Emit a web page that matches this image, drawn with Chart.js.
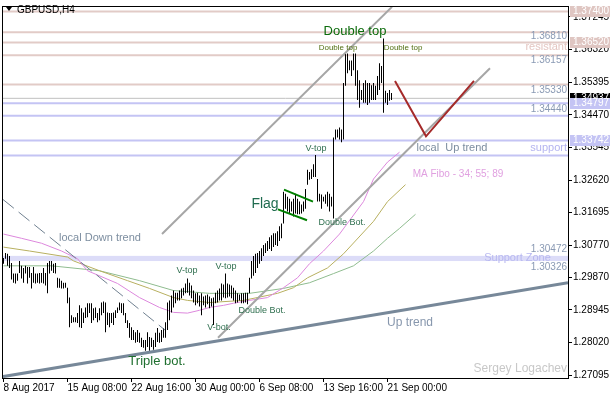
<!DOCTYPE html>
<html>
<head>
<meta charset="utf-8">
<script src="https://cdn.jsdelivr.net/npm/chart.js@4.4.1/dist/chart.umd.min.js"></script>
<style>
  html, body { margin: 0; padding: 0; background: #fff; }
  #wrap { width: 610px; height: 400px; }
</style>
</head>
<body>
<div id="wrap"><canvas id="gbpusd" width="610" height="400"></canvas></div>
<script>
// GBPUSD H4, one entry per bar (8 Aug 2017 00:00 .. 21 Sep 08:00)
const barHigh = [
  1.3041, 1.3055, 1.3053, 1.3047, 1.3027, 1.2997, 1.2997, 1.2997, 1.3033, 1.3019,
  1.3013, 1.3019, 1.3016, 1.3016, 1.2999, 1.3016, 1.2997, 1.2997, 1.2999, 1.2999,
  1.3013, 1.2999, 1.3027, 1.3033, 1.3033, 1.3025, 1.3027, 1.2985, 1.2983, 1.2977,
  1.2971, 1.2971, 1.2957, 1.2929, 1.2879, 1.2873, 1.2873, 1.2885, 1.2907, 1.2899,
  1.2887, 1.2901, 1.2913, 1.2913, 1.2913, 1.2899, 1.2901, 1.2885, 1.2899, 1.2915,
  1.2918, 1.2915, 1.2887, 1.2885, 1.2885, 1.2887, 1.2893, 1.2901, 1.2915, 1.2913,
  1.2913, 1.2885, 1.2865, 1.2857, 1.2845, 1.2837, 1.2831, 1.2837, 1.2829, 1.2815,
  1.2809, 1.2809, 1.2831, 1.2817, 1.2815, 1.2809, 1.2829, 1.2843, 1.2829, 1.2837,
  1.2843, 1.2859, 1.2915, 1.2921, 1.2935, 1.2949, 1.2943, 1.2943, 1.2949, 1.2955,
  1.2957, 1.2969, 1.2983, 1.2971, 1.2963, 1.2949, 1.2941, 1.2943, 1.2935, 1.2941,
  1.2932, 1.2935, 1.2938, 1.2932, 1.2927, 1.2929, 1.2943, 1.2949, 1.2955, 1.2969,
  1.2966, 1.2997, 1.2969, 1.2966, 1.2963, 1.2957, 1.2949, 1.2941, 1.2938, 1.2941,
  1.2941, 1.2943, 1.2943, 1.2985, 1.3033, 1.3047, 1.3053, 1.3055, 1.3061, 1.3069,
  1.3078, 1.3083, 1.3089, 1.3100, 1.3106, 1.3111, 1.3111, 1.3117, 1.3131, 1.3139,
  1.3229, 1.3223, 1.3215, 1.3209, 1.3201, 1.3209, 1.3223, 1.3209, 1.3201, 1.3193,
  1.3201, 1.3237, 1.3291, 1.3285, 1.3293, 1.3307, 1.3333, 1.3265, 1.3223, 1.3221,
  1.3215, 1.3221, 1.3229, 1.3223, 1.3215, 1.3383, 1.3405, 1.3405, 1.3411, 1.3405,
  1.3537, 1.3621, 1.3621, 1.3601, 1.3601, 1.3621, 1.3621, 1.3573, 1.3545, 1.3517,
  1.3537, 1.3545, 1.3537, 1.3537, 1.3531, 1.3537, 1.3529, 1.3557, 1.3593, 1.3585,
  1.3663, 1.3515, 1.3509, 1.3517, 1.3509
];
const barLow = [
  1.3025, 1.3039, 1.3019, 1.3013, 1.2980, 1.2971, 1.2969, 1.2977, 1.2999, 1.2983,
  1.2971, 1.2997, 1.2969, 1.2985, 1.2955, 1.2971, 1.2969, 1.2971, 1.2969, 1.2971,
  1.2969, 1.2963, 1.2941, 1.2997, 1.3005, 1.2999, 1.2997, 1.2957, 1.2957, 1.2955,
  1.2955, 1.2957, 1.2913, 1.2845, 1.2857, 1.2859, 1.2859, 1.2857, 1.2845, 1.2843,
  1.2857, 1.2871, 1.2873, 1.2885, 1.2857, 1.2865, 1.2871, 1.2859, 1.2865, 1.2879,
  1.2885, 1.2831, 1.2851, 1.2845, 1.2857, 1.2851, 1.2871, 1.2885, 1.2893, 1.2885,
  1.2879, 1.2857, 1.2843, 1.2815, 1.2809, 1.2809, 1.2801, 1.2803, 1.2801, 1.2789,
  1.2787, 1.2778, 1.2789, 1.2778, 1.2789, 1.2781, 1.2789, 1.2803, 1.2801, 1.2803,
  1.2815, 1.2815, 1.2837, 1.2865, 1.2887, 1.2901, 1.2913, 1.2921, 1.2921, 1.2927,
  1.2935, 1.2941, 1.2943, 1.2935, 1.2927, 1.2915, 1.2907, 1.2913, 1.2904, 1.2879,
  1.2907, 1.2901, 1.2910, 1.2899, 1.2904, 1.2851, 1.2913, 1.2915, 1.2921, 1.2921,
  1.2929, 1.2927, 1.2929, 1.2932, 1.2927, 1.2921, 1.2913, 1.2915, 1.2921, 1.2913,
  1.2913, 1.2915, 1.2910, 1.2941, 1.2983, 1.2991, 1.2999, 1.3013, 1.3025, 1.3033,
  1.3047, 1.3055, 1.3061, 1.3067, 1.3061, 1.3072, 1.3078, 1.3075, 1.3089, 1.3097,
  1.3139, 1.3181, 1.3173, 1.3167, 1.3173, 1.3159, 1.3167, 1.3165, 1.3165, 1.3167,
  1.3173, 1.3181, 1.3249, 1.3263, 1.3265, 1.3271, 1.3271, 1.3201, 1.3201, 1.3181,
  1.3201, 1.3195, 1.3187, 1.3173, 1.3187, 1.3153, 1.3377, 1.3383, 1.3377, 1.3369,
  1.3377, 1.3529, 1.3565, 1.3573, 1.3557, 1.3573, 1.3529, 1.3489, 1.3467, 1.3489,
  1.3481, 1.3481, 1.3475, 1.3481, 1.3489, 1.3489, 1.3489, 1.3503, 1.3517, 1.3537,
  1.3453, 1.3481, 1.3475, 1.3487, 1.3489
];

const ma34Bars = [0, 9, 19, 29, 37, 42, 57, 68, 78, 85, 92, 98, 103, 110, 115, 123, 132, 140, 147, 153, 160, 168, 180, 185, 192, 198];
const ma34Vals = [1.3109, 1.3097, 1.3083, 1.3061, 1.3039, 1.3005, 1.2969, 1.2929, 1.2901, 1.2887, 1.2885, 1.2893, 1.2901,
                  1.2907, 1.2913, 1.2921, 1.2929, 1.2957, 1.2985, 1.3025, 1.3061, 1.3109, 1.3201, 1.3265, 1.3313, 1.3341];
const ma55Bars = [0, 13, 32, 35, 48, 62, 73, 85, 92, 103, 120, 137, 145, 152, 162, 170, 185, 192, 201];
const ma55Vals = [1.3072, 1.3061, 1.3044, 1.3033, 1.3005, 1.2977, 1.2955, 1.2929, 1.2921, 1.2915, 1.2921, 1.2941, 1.2957,
                  1.2985, 1.3013, 1.3053, 1.3145, 1.3201, 1.3249];
const ma89Bars = [0, 24, 48, 68, 85, 103, 123, 140, 153, 165, 175, 185, 192, 198, 206];
const ma89Vals = [1.3019, 1.3019, 1.3005, 1.2977, 1.2949, 1.2941, 1.2941, 1.2955, 1.2971, 1.2997, 1.3019, 1.3061, 1.3097,
                  1.3125, 1.3165];

// levels
const resistLevels = [1.37400, 1.36810, 1.36520, 1.36157, 1.35330];
const supportLevels = [1.34797, 1.34440, 1.33742, 1.33320];
const bidPrice = 1.34937;
const supportZone = [1.30326, 1.30472];

// trend lines: [bar, price] pairs
const upTrend = [[-0.25, 1.2705], [282.25, 1.2971]];
const downTrend = [[-0.25, 1.3207], [80.75, 1.2837]];
const channelTop = [[79.25, 1.3109], [194.25, 1.3753]];
const channelBottom = [[107.25, 1.2815], [243.25, 1.3579]];
const forecast = [[195.75, 1.3543], [211.25, 1.3386], [235.25, 1.3543]];
const flagTop = [[140.25, 1.3235], [154.75, 1.3201]];
const flagBottom = [[137.25, 1.3179], [151.75, 1.3148]];

// axes
const priceTicks = [1.37245, 1.36320, 1.35395, 1.34470, 1.33545, 1.32620, 1.31695, 1.30770, 1.29870, 1.28945, 1.28020, 1.27095];
const timeTickBars = [0, 32, 64, 96, 128, 160, 192];
const timeTickLabels = ['8 Aug 2017', '15 Aug 08:00', '22 Aug 16:00', '30 Aug 00:00', '6 Sep 08:00', '13 Sep 16:00', '21 Sep 00:00'];

const FONT = "'Liberation Sans', Arial, sans-serif";
const X_MIN = -0.25, X_MAX = 282.25;

function pts(arr) {
    return arr.map(p => ({ x: p[0], y: p[1] }));
}

function lineSet(data, color, width, order, dash) {
    return {
        type: 'line', data: data, borderColor: color, borderWidth: width,
        borderDash: dash || [], pointRadius: 0, fill: false, tension: 0, order: order
    };
}

function hLine(price, color, width) {
    return lineSet([{ x: X_MIN, y: price }, { x: X_MAX, y: price }], color, width, 10);
}

const notes = [
    { text: 'Double top', x: 175.75, y: 1.3683, size: 13, color: '#0b6b0b' },
    { text: 'Double top', x: 167.25, y: 1.3638, size: 8, color: '#4f6e10' },
    { text: 'Double top', x: 199.75, y: 1.3638, size: 8, color: '#4f6e10' },
    { text: 'V-top', x: 91.75, y: 1.3005, size: 9, color: '#2f6f4f' },
    { text: 'V-top', x: 111.25, y: 1.3016, size: 9, color: '#2f6f4f' },
    { text: 'V-top', x: 156.25, y: 1.3352, size: 9, color: '#2f6f4f' },
    { text: 'V-bot.', x: 107.75, y: 1.2843, size: 9, color: '#2f6f4f' },
    { text: 'Double Bot.', x: 129.25, y: 1.2893, size: 9, color: '#2f6f4f' },
    { text: 'Double Bot.', x: 169.25, y: 1.3142, size: 9, color: '#2f6f4f' },
    { text: 'Flag', x: 130.75, y: 1.3195, size: 14, color: '#1f6b4f' },
    { text: 'Triple bot.', x: 76.75, y: 1.2747, size: 13, color: '#1f6f2f' },
    { text: 'local Down trend', x: 48.25, y: 1.3097, size: 11, color: '#7d8ea0' },
    { text: 'local  Up trend', x: 224.25, y: 1.3352, size: 11, color: '#7d8ea0' },
    { text: 'MA Fibo - 34; 55; 89', x: 227.25, y: 1.3279, size: 10, color: '#e0a0e0' },
    { text: 'Up trend', x: 203.25, y: 1.2857, size: 12, color: '#8797ad' },
    { text: 'Support Zone', x: 257, y: 1.3041, size: 11, color: '#b8b8f0' },
    { text: '1.36810', x: 281.75, y: 1.3669, size: 10, color: '#8a9ab4', align: 'right' },
    { text: 'resistant', x: 281.75, y: 1.3638, size: 11, color: '#e4c6c2', align: 'right' },
    { text: '1.36157', x: 281.75, y: 1.3601, size: 10, color: '#8a9ab4', align: 'right' },
    { text: '1.35330', x: 281.75, y: 1.3517, size: 10, color: '#8a9ab4', align: 'right' },
    { text: '1.34440', x: 281.75, y: 1.3464, size: 10, color: '#8a9ab4', align: 'right' },
    { text: 'support', x: 281.75, y: 1.3352, size: 11, color: '#b4b4f0', align: 'right' },
    { text: '1.30472', x: 281.75, y: 1.3067, size: 10, color: '#8a9ab4', align: 'right' },
    { text: '1.30326', x: 281.75, y: 1.3016, size: 10, color: '#8a9ab4', align: 'right' },
    { text: 'Sergey Logachev', x: 281.75, y: 1.2728, size: 12, color: '#c8c8c8', align: 'right' }
];

const priceBoxes = [
    { price: 1.37400, bg: '#dfc6c2' },
    { price: 1.36520, bg: '#dfc6c2' },
    { price: bidPrice, bg: '#000000' },
    { price: 1.34797, bg: '#c4c4f4' },
    { price: 1.33742, bg: '#c4c4f4' }
];

const overlay = {
    id: 'overlay',
    beforeDatasetsDraw(chart) {
        const { ctx, chartArea, scales } = chart;
        const y1 = scales.y.getPixelForValue(supportZone[1]);
        const y0 = scales.y.getPixelForValue(supportZone[0]);
        ctx.save();
        ctx.fillStyle = '#dcdcf8';
        ctx.fillRect(chartArea.left, y1, chartArea.right - chartArea.left, y0 - y1);
        ctx.restore();
    },
    afterDatasetsDraw(chart) {
        const { ctx, scales } = chart;
        ctx.save();
        ctx.textBaseline = 'middle';
        notes.forEach(n => {
            ctx.font = n.size + 'px ' + FONT;
            ctx.fillStyle = n.color;
            ctx.textAlign = n.align || 'center';
            ctx.fillText(n.text, scales.x.getPixelForValue(n.x), scales.y.getPixelForValue(n.y));
        });
        ctx.restore();
    },
    afterDraw(chart) {
        const { ctx, chartArea, scales } = chart;
        ctx.save();
        // frame
        ctx.strokeStyle = '#000';
        ctx.lineWidth = 1;
        ctx.strokeRect(chartArea.left - 0.5, chartArea.top - 0.5,
            chartArea.right - chartArea.left + 1, chartArea.bottom - chartArea.top + 1);

        // price labels on the right axis
        ctx.font = '10px ' + FONT;
        ctx.textBaseline = 'middle';
        ctx.textAlign = 'left';
        priceBoxes.forEach(b => {
            const y = Math.round(scales.y.getPixelForValue(b.price));
            ctx.fillStyle = b.bg;
            ctx.fillRect(chartArea.right + 2, y - 5, 610 - chartArea.right - 2, 11);
            ctx.fillStyle = '#fff';
            ctx.fillText(b.price.toFixed(5), chartArea.right + 5, y + 0.5);
        });

        // symbol title
        ctx.fillStyle = '#000';
        ctx.beginPath();
        ctx.moveTo(6, 7);
        ctx.lineTo(12, 7);
        ctx.lineTo(9, 11);
        ctx.closePath();
        ctx.fill();
        ctx.font = '10px ' + FONT;
        ctx.fillText('GBPUSD,H4', 17, 10);
        ctx.restore();
    }
};

const datasets = [
    {
        type: 'bar',
        data: barHigh.map((h, i) => ({ x: i, y: [barLow[i], h] })),
        backgroundColor: '#000',
        borderWidth: 0,
        barThickness: 1,
        inflateAmount: 0,
        grouped: false,
        order: 3
    },
    lineSet(ma34Bars.map((b, i) => ({ x: b, y: ma34Vals[i] })), '#dd88dd', 1, 5),
    lineSet(ma55Bars.map((b, i) => ({ x: b, y: ma55Vals[i] })), '#b8b060', 1, 5),
    lineSet(ma89Bars.map((b, i) => ({ x: b, y: ma89Vals[i] })), '#8fbc8f', 1, 5),
    lineSet(pts(upTrend), '#778899', 3, 1),
    lineSet(pts(downTrend), '#708090', 1, 1, [14, 6]),
    lineSet(pts(channelTop), '#a6a6a6', 2, 1),
    lineSet(pts(channelBottom), '#a6a6a6', 2, 1),
    lineSet(pts(forecast), '#a52a2a', 2, 0),
    lineSet(pts(flagTop), '#008000', 2, 0),
    lineSet(pts(flagBottom), '#008000', 2, 0),
    hLine(bidPrice, '#c0c0c0', 1)
];
resistLevels.forEach(p => datasets.push(hLine(p, '#e2cbc7', 2)));
supportLevels.forEach(p => datasets.push(hLine(p, '#c4c4f4', 2)));

new Chart(document.getElementById('gbpusd'), {
    type: 'bar',
    data: { datasets: datasets },
    options: {
        responsive: false,
        devicePixelRatio: 1,
        animation: false,
        events: [],
        layout: { padding: { left: 3, top: 3, right: 0, bottom: 0 } },
        plugins: { legend: { display: false }, tooltip: { enabled: false } },
        scales: {
            x: {
                type: 'linear',
                min: X_MIN,
                max: X_MAX,
                offset: false,
                afterBuildTicks: s => { s.ticks = timeTickBars.map(v => ({ value: v })); },
                afterFit: s => { s.height = 22; },
                grid: { drawOnChartArea: false, drawTicks: true, tickLength: 4, color: '#000', offset: false },
                border: { display: false },
                ticks: {
                    autoSkip: false, maxRotation: 0, minRotation: 0, align: 'start', padding: 0,
                    color: '#000', font: { family: FONT, size: 10 },
                    callback: (v, i) => timeTickLabels[i]
                }
            },
            y: {
                type: 'linear',
                position: 'right',
                min: 1.27011,
                max: 1.37525,
                afterBuildTicks: s => { s.ticks = priceTicks.map(v => ({ value: v })); },
                afterFit: s => { s.width = 42; },
                grid: { drawOnChartArea: false, drawTicks: true, tickLength: 4, color: '#000' },
                border: { display: false },
                ticks: {
                    autoSkip: false, padding: 1, color: '#000', font: { family: FONT, size: 10 },
                    callback: v => v.toFixed(5)
                }
            }
        }
    },
    plugins: [overlay]
});
</script>
</body>
</html>
